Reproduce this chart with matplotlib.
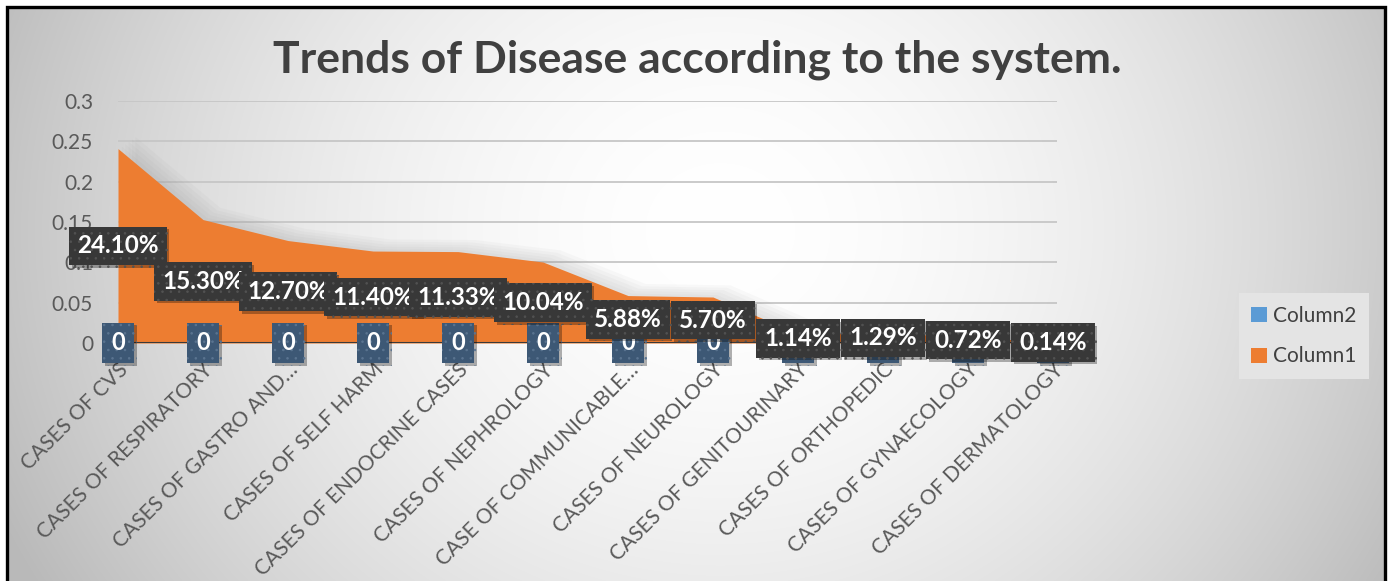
import matplotlib
matplotlib.use("Agg")
import matplotlib.pyplot as plt
import matplotlib.patheffects as pe
from matplotlib.patches import Patch, Rectangle
import numpy as np

plt.rcParams['font.family'] = ['Lato', 'DejaVu Sans']
plt.rcParams['hatch.linewidth'] = 0.6

# data
categories = ['CASES OF CVS', 'CASES OF RESPIRATORY', 'CASES OF GASTRO AND…',
              'CASES OF SELF HARM', 'CASES OF ENDOCRINE CASES', 'CASES OF NEPHROLOGY',
              'CASE OF COMMUNICABLE…', 'CASES OF NEUROLOGY', 'CASES OF GENITOURINARY',
              'CASES OF ORTHOPEDIC', 'CASES OF GYNAECOLOGY', 'CASES OF DERMATOLOGY']
column1 = [0.241, 0.153, 0.127, 0.114, 0.1133, 0.1004, 0.0588, 0.057, 0.0114, 0.0129, 0.0072, 0.0014]
column1_labels = ['24.10%', '15.30%', '12.70%', '11.40%', '11.33%', '10.04%',
                  '5.88%', '5.70%', '1.14%', '1.29%', '0.72%', '0.14%']
column2 = [0, 0, 0, 0, 0, 0, 0, 0, 0, 0, 0, 0]
yticks = [0, 0.05, 0.1, 0.15, 0.2, 0.25, 0.3]
ytick_labels = ['0', '0.05', '0.1', '0.15', '0.2', '0.25', '0.3']

W, H = 1388, 581
fig = plt.figure(figsize=(W / 100, H / 100), dpi=100)
fig.patch.set_facecolor('white')

# radial grey background inside the frame
bg = fig.add_axes([7 / W, 0, (1385 - 7) / W, 1 - 7 / H], zorder=-10)
xx, yy = np.meshgrid(np.arange(7, 1385), np.arange(7, H))
d = np.hypot((xx - 720) / 1.0, (yy - 230) / 0.9)
shade = 255 - 62 * np.clip(d / 740, 0, 1.3) ** 1.8
shade = np.clip(shade, 185, 255) / 255
bg.imshow(np.dstack([shade] * 3), aspect='auto', extent=[0, 1, 0, 1], origin='upper')
bg.axis('off')

# black frame (no bottom edge)
fig.add_artist(Rectangle((7 / W, -0.05), (1385 - 7) / W, 1.05 - 7 / H,
                         transform=fig.transFigure, fill=False,
                         edgecolor='black', linewidth=2.4))

ax = fig.add_axes([118 / W, 1 - 343 / H, (1057 - 118) / W, (343 - 101) / H])
ax.set_facecolor('none')
x = np.arange(len(categories))
ax.set_xlim(0, 11 + 4 / 85)
ax.set_ylim(0, 0.3)

# grid
for t in yticks[1:]:
    ax.axhline(t, color='#c6c6c6', lw=1.3, zorder=1)
ax.axhline(0, color='#3a3a3a', lw=2.2, zorder=3)

# soft shadow of area
c1 = np.array(column1)
for k in range(1, 6):
    ax.fill_between(x + 0.04 * k, 0, c1 + 0.003 * k, color='#7a7a7a', alpha=0.045, lw=0, zorder=1.5)
ax.fill_between(x, 0, c1, color='#ed7d31', lw=0, zorder=2)
ax.fill_between(x, 0, column2, color='#5b9bd5', lw=0, zorder=2.5)

shadow = [pe.SimplePatchShadow(offset=(2, -2), shadow_rgbFace='black', alpha=0.3), pe.Normal()]

# data labels
for i, v in enumerate(column2):
    t = ax.text(x[i], v, str(v), ha='center', va='center', color='white',
                fontsize=17, fontweight='bold', zorder=4,
                bbox=dict(boxstyle='square,pad=0.38', facecolor='#3d5875',
                          edgecolor='#5a7490', linewidth=0))
    t.get_bbox_patch().set_hatch('..')
    t.get_bbox_patch().set_path_effects(shadow)
for i, v in enumerate(column1):
    t = ax.text(x[i], v / 2, column1_labels[i], ha='center', va='center', color='white',
                fontsize=17.5, fontweight='bold', zorder=5,
                bbox=dict(boxstyle='square,pad=0.32', facecolor='#383838',
                          edgecolor='#525252', linewidth=0))
    t.get_bbox_patch().set_hatch('..')
    t.get_bbox_patch().set_path_effects(shadow)

ax.set_yticks(yticks)
ax.set_yticklabels(ytick_labels)
ax.set_xticks(x)
ax.set_xticklabels(categories, rotation=45, ha='right', rotation_mode='anchor')
ax.tick_params(axis='y', length=0, pad=18, labelsize=15, labelcolor='#595959')
ax.tick_params(axis='x', length=0, pad=12, labelsize=15, labelcolor='#595959')
for s in ax.spines.values():
    s.set_visible(False)

fig.text(697 / W, 1 - 60 / H, 'Trends of Disease according to the system.',
         ha='center', va='center', fontsize=32, fontweight='bold', color='#404040')

handles = [Patch(facecolor='#5b9bd5', label='Column2'),
           Patch(facecolor='#ed7d31', label='Column1')]
leg = fig.legend(handles=handles, loc='center', bbox_to_anchor=(1304 / W, 1 - 336 / H),
                 frameon=True, fontsize=15, labelcolor='#404040', handlelength=0.75,
                 handleheight=0.75, handletextpad=0.3, labelspacing=1.0,
                 borderpad=0.6, fancybox=False)
leg.get_frame().set_facecolor('#e4e4e4')
leg.get_frame().set_edgecolor('none')
leg.get_frame().set_alpha(1)

fig.savefig('out.png', dpi=100)
